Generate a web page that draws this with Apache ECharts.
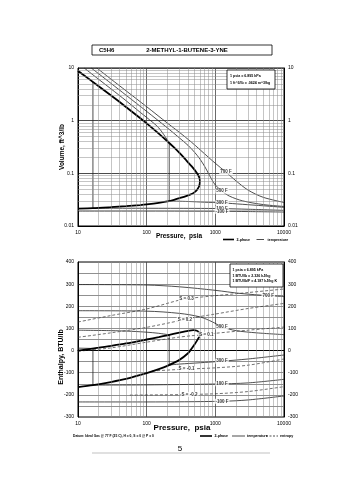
<!DOCTYPE html>
<html><head><meta charset="utf-8">
<script src="https://cdn.jsdelivr.net/npm/echarts@6/dist/echarts.min.js"></script>
<style>html,body{margin:0;padding:0;background:#fff}#c{width:355px;height:480px}</style>
</head><body><div id="c"></div>
<script>
// ---------- tick labels ----------
const pressureTicks = [10, 100, 1000, 10000];
const volumeTicks = [0.01, 0.1, 1, 10];
const enthalpyTicks = [-300, -200, -100, 0, 100, 200, 300, 400];

// ---------- Volume chart: [pressure psia, volume ft^3/lb] ----------
const volSatVapor = [[10,8.8],[20,4.52],[30,3.04],[50,1.82],[80,1.125],[100,0.888],[150,0.568],[200,0.407],[250,0.31],[300,0.2445],[380,0.175],[450,0.137],[505,0.114],[550,0.097],[580,0.085],[597,0.072]];
const volSatLiquid = [[597,0.072],[592,0.063],[580,0.057],[564,0.053],[540,0.0485],[500,0.044],[450,0.0405],[400,0.038],[350,0.0358],[300,0.0338],[250,0.0315],[200,0.0294],[150,0.0275],[100,0.0257],[80,0.025],[50,0.0238],[30,0.0228],[16.5,0.0218],[10,0.0214]];
const vol700F = [[18.8,10],[30,6.2],[50,3.7],[100,1.84],[200,0.9],[300,0.6],[450,0.39],[600,0.28],[800,0.2],[1000,0.155],[1430,0.105],[2000,0.072],[3000,0.048],[5000,0.035],[10000,0.028]];
const vol500F = [[15.6,10],[30,5.15],[50,3.05],[100,1.5],[200,0.73],[300,0.47],[400,0.34],[500,0.25],[600,0.185],[700,0.135],[800,0.098],[900,0.074],[1000,0.06],[1250,0.046],[1600,0.037],[2500,0.030],[5000,0.0255],[10000,0.0235]];
const vol300FVapor = [[12.3,10],[20,6.1],[30,4.05],[50,2.4],[80,1.45],[100,1.15],[150,0.73],[213,0.378]];
const vol300FLiquid = [[213,0.0299],[400,0.0292],[700,0.0283],[1250,0.0275],[2500,0.0258],[5000,0.0242],[10000,0.0226]];
const vol100FVapor = [[10,9.1],[16.5,5.44]];
const vol100FLiquid = [[16.5,0.0218],[100,0.0217],[500,0.0216],[1250,0.0214],[3000,0.0208],[10000,0.0198]];
const volMinus100F = [[10,0.0192],[100,0.0192],[1250,0.0190],[3000,0.0188],[10000,0.0184]];

// ---------- Enthalpy chart: [pressure psia, enthalpy BTU/lb] ----------
const hSatVapor = [[10,0],[20,13],[30,21],[50,32],[100,50],[150,61],[200,69],[300,81],[400,89],[480,92],[540,89.5],[575,83],[597,70]];
const hSatLiquid = [[597,70],[570,57],[540,45],[500,28],[450,8],[400,-12],[300,-42],[200,-69],[150,-84],[100,-102],[50,-128],[30,-142],[16.5,-156],[10,-165]];
const h700F = [[10,298],[100,296],[300,288],[1000,272],[2300,258],[5900,248],[10000,244]];
const h500F = [[10,180],[100,178],[300,168],[600,152],[900,130],[1250,107],[2000,90],[4000,80],[10000,72]];
const h300FVapor = [[10,92],[30,90],[60,87],[100,83],[150,78],[213,71]];
const h300FLiquid = [[213,-65],[300,-61],[600,-55],[1250,-48],[3000,-38],[10000,-20]];
const h100FVapor = [[10,11],[16.5,9.5]];
const h100FLiquid = [[16.5,-156],[100,-155],[1000,-151],[3000,-146],[10000,-130]];
const hMinus100F = [[10,-232],[100,-232],[1250,-229],[3000,-223],[10000,-205]];
const hS03 = [[10,129],[30,158],[100,188],[300,228],[427,236],[1000,248],[3000,262],[10000,278]];
const hS02 = [[10,60],[30,80],[100,105],[300,135],[427,146],[1000,165],[3000,190],[10000,213]];
const hS01 = [[10,-3],[30,12],[100,38],[200,53],[300,61],[450,67],[597,70],[1000,78],[3000,92],[10000,106]];
const hSm01 = [[120,-92],[360,-84],[1000,-78],[3000,-66],[10000,-38]];
const hSm02 = [[57,-201],[300,-199],[1000,-195],[3000,-185],[10000,-163]];

// label anchors: [text, pressure, curve]
const volLabels = [['700 F',1430,vol700F],['500 F',1250,vol500F],['300 F',1250,vol300FLiquid],['100 F',1250,vol100FLiquid],['-100 F',1250,volMinus100F]];
const hLabels = [['700 F',5900,h700F],['500 F',1250,h500F],['300 F',1250,h300FLiquid],['100 F',1250,h100FLiquid],['-100 F',1250,hMinus100F],
  ['S = 0.3',380,hS03],['S = 0.2',360,hS02],['S = 0.1',740,hS01],['S = -0.1',380,hSm01],['S = -0.2',420,hSm02]];

const minorMult = [2,3,4,5,6,7,8,9];
const FONT = 'Liberation Sans, Arial, sans-serif';

function interp(arr, p, logY){
  const lp = Math.log10(p);
  for (let i=0;i<arr.length-1;i++){
    const a=arr[i], b=arr[i+1];
    const la=Math.log10(a[0]), lb=Math.log10(b[0]);
    if ((lp>=la && lp<=lb) || (lp<=la && lp>=lb)){
      const t = lb===la?0:(lp-la)/(lb-la);
      if (logY) return Math.pow(10, Math.log10(a[1]) + t*(Math.log10(b[1])-Math.log10(a[1])));
      return a[1] + t*(b[1]-a[1]);
    }
  }
  return arr[arr.length-1][1];
}
function minors(decades){ const out=[]; decades.forEach(d=>minorMult.forEach(m=>out.push(+(d*m).toPrecision(6)))); return out; }
const fmt = v => String(+(+v).toPrecision(6));

function curve(data, xi, yi, style){
  return Object.assign({type:'line', xAxisIndex:xi, yAxisIndex:yi, data:data, symbol:'none', smooth:0.3, silent:true, z:3,
    lineStyle:{color:'#222', width:0.8}}, style||{});
}
const thick = {lineStyle:{color:'#000', width:1.8}, z:4, smooth:0.25};
const dashed = {lineStyle:{color:'#333', width:0.7, type:[3,2]}};
const vert = {smooth:false};

function vertSeg(a, b, xi, yi, st){ return curve([a[a.length-1], b[0]], xi, yi, Object.assign({}, st||{}, vert)); }

function labelSeries(list, xi, yi, logY){
  return {type:'scatter', xAxisIndex:xi, yAxisIndex:yi, symbolSize:1, itemStyle:{color:'rgba(0,0,0,0)'}, z:6, silent:true,
    data: list.map(l=>({value:[l[1], interp(l[2], l[1], logY)], name:l[0]})),
    label:{show:true, position:'inside', formatter:p=>p.name, fontSize:4.5, fontWeight:'bold', fontFamily:FONT, color:'#000', backgroundColor:'#fff', padding:[0,1]}};
}

const gridLineMinor = {color:'#8a8a8a', width:0.5};
const series = [
  {type:'line', xAxisIndex:0, yAxisIndex:0, data:[[10,0.01]], symbol:'none', lineStyle:{opacity:0}, z:1, silent:true,
    markLine:{silent:true, symbol:['none','none'], label:{show:false}, lineStyle:Object.assign({type:'solid'},gridLineMinor), animation:false,
      data:[...minors([10,100,1000]).map(v=>({xAxis:v})), ...minors([0.01,0.1,1]).map(v=>({yAxis:v}))]}},
  {type:'line', xAxisIndex:1, yAxisIndex:2, data:[[10,0]], symbol:'none', lineStyle:{opacity:0}, z:1, silent:true,
    markLine:{silent:true, symbol:['none','none'], label:{show:false}, lineStyle:Object.assign({type:'solid'},gridLineMinor), animation:false,
      data:minors([10,100,1000]).map(v=>({xAxis:v}))}},
  // volume chart
  curve(volSatVapor.concat(volSatLiquid.slice(1)),0,0,thick),
  curve(vol700F,0,0), curve(vol500F,0,0),
  curve(vol300FVapor,0,0), vertSeg(vol300FVapor,vol300FLiquid,0,0), curve(vol300FLiquid,0,0),
  curve(vol100FVapor,0,0,vert), vertSeg(vol100FVapor,vol100FLiquid,0,0), curve(vol100FLiquid,0,0),
  curve(volMinus100F,0,0),
  labelSeries(volLabels,0,0,true),
  // enthalpy chart
  curve(hSatVapor.concat(hSatLiquid.slice(1)),1,2,thick),
  curve(h700F,1,2), curve(h500F,1,2),
  curve(h300FVapor,1,2), vertSeg(h300FVapor,h300FLiquid,1,2), curve(h300FLiquid,1,2),
  curve(h100FVapor,1,2,vert), vertSeg(h100FVapor,h100FLiquid,1,2), curve(h100FLiquid,1,2),
  curve(hMinus100F,1,2),
  curve(hS03,1,2,dashed), curve(hS02,1,2,dashed), curve(hS01,1,2,dashed), curve(hSm01,1,2,dashed), curve(hSm02,1,2,dashed),
  labelSeries(hLabels,1,2,false)
];

const axLabel = {fontSize:5, color:'#000', fontFamily:FONT};
const axLine = {show:true, lineStyle:{color:'#000', width:1}};
const major = {show:true, lineStyle:{color:'#444', width:0.8}};
const xAxisCommon = {type:'log', logBase:10, min:pressureTicks[0], max:pressureTicks[pressureTicks.length-1], axisLine:axLine, axisTick:{show:false},
  splitLine:major, axisLabel:Object.assign({margin:4, formatter:fmt}, axLabel)};
const yVolCommon = {type:'log', logBase:10, min:volumeTicks[0], max:volumeTicks[volumeTicks.length-1], axisLine:axLine, axisTick:{show:false},
  splitLine:major, axisLabel:Object.assign({margin:4, formatter:fmt}, axLabel)};
const yHCommon = {type:'value', min:enthalpyTicks[0], max:enthalpyTicks[enthalpyTicks.length-1], interval:50, axisLine:axLine, axisTick:{show:false},
  splitLine:{show:true, lineStyle:{color:'#7a7a7a', width:0.6}},
  axisLabel:Object.assign({margin:4, formatter:v=> enthalpyTicks.indexOf(v)>=0 ? String(v) : ''}, axLabel)};

const txt = (text,x,y,size,opt) => ({type:'text', silent:true, style:Object.assign({text, x, y, fill:'#000', fontSize:size, fontFamily:FONT,
  textAlign:'left', textVerticalAlign:'middle', align:'left', verticalAlign:'middle'}, opt||{})});
const center = {textAlign:'center', align:'center'};
const bold = {fontWeight:'bold'};
const ln = (x1,y1,x2,y2,w,dash,col) => ({type:'line', silent:true, shape:{x1,y1,x2,y2}, style:{stroke:col||'#000', lineWidth:w, lineDash:dash||null}});
const box = (x,y,w,h) => ({type:'rect', silent:true, shape:{x,y,width:w,height:h}, style:{fill:'#fff', stroke:'#000', lineWidth:0.8}, z:10});

const graphic = [
  box(92,45,180,10),
  Object.assign(txt('C5H6',99,50.5,6,bold),{z:11}),
  Object.assign(txt('2-METHYL-1-BUTENE-3-YNE',187,50.5,6,Object.assign({},bold,center)),{z:11}),
  // axis names
  txt('Pressure,  psia',179,236,6.5,Object.assign({},bold,center)),
  Object.assign(txt('Volume, ft^3/lb',0,0,6.5,Object.assign({},bold,center)),{x:62,y:147,rotation:Math.PI/2}),
  txt('Pressure,  psia',182,428,8,Object.assign({},bold,center)),
  Object.assign(txt('Enthalpy, BTU/lb',0,0,7,Object.assign({},bold,center)),{x:61,y:357,rotation:Math.PI/2}),
  // info boxes
  box(227,70,48,19),
  Object.assign(txt('1 psia = 6.895 kPa',230,76,3.6,bold),{z:11}),
  Object.assign(txt('1 ft^3/lb = .0624 m^3/kg',230,83,3.6,bold),{z:11}),
  box(230,264,53,23),
  Object.assign(txt('1 psia = 6.895 kPa',232.5,270,3.6,bold),{z:11}),
  Object.assign(txt('1 BTU/lb = 2.326 kJ/kg',232.5,275.7,3.6,bold),{z:11}),
  Object.assign(txt('1 BTU/lb/F = 4.187 kJ/kg K',232.5,281.3,3.6,bold),{z:11}),
  // legend top
  ln(223,239.5,234,239.5,1.6), txt('2-phase',236.5,239.5,3.6,bold),
  ln(256.5,239.5,264,239.5,0.7), txt('temperature',267.5,239.5,3.6,bold),
  // legend bottom
  ln(200,436,212,436,1.6), txt('2-phase',214.5,436,3.6,bold),
  ln(232,436,245,436,0.7), txt('temperature',247,436,3.6,bold),
  ln(266,436,278,436,0.7,[2,1.5]), txt('entropy',280,436,3.6,bold),
  // footnote, page
  txt('Datum: Ideal Gas @ 77 F (25 C), H = 0, S = 0 @ P = 0',73,436,3.3,bold),
  txt('5',180,448.5,8,center),
  ln(92,453,270,453,0.6,null,'#999')
];

const chart = echarts.init(document.getElementById('c'), null, {renderer:'canvas'});
chart.setOption({
  animation:false, backgroundColor:'#fff',
  grid:[
    {left:78, top:68, width:206, height:158, show:true, borderColor:'#000', borderWidth:1, containLabel:false},
    {left:78, top:262, width:206, height:155, show:true, borderColor:'#000', borderWidth:1, containLabel:false}
  ],
  xAxis:[Object.assign({gridIndex:0},xAxisCommon), Object.assign({gridIndex:1},xAxisCommon)],
  yAxis:[Object.assign({gridIndex:0, position:'left'},yVolCommon), Object.assign({gridIndex:0, position:'right'},yVolCommon),
         Object.assign({gridIndex:1, position:'left'},yHCommon), Object.assign({gridIndex:1, position:'right'},yHCommon)],
  series:series,
  graphic:graphic
});
</script></body></html>
